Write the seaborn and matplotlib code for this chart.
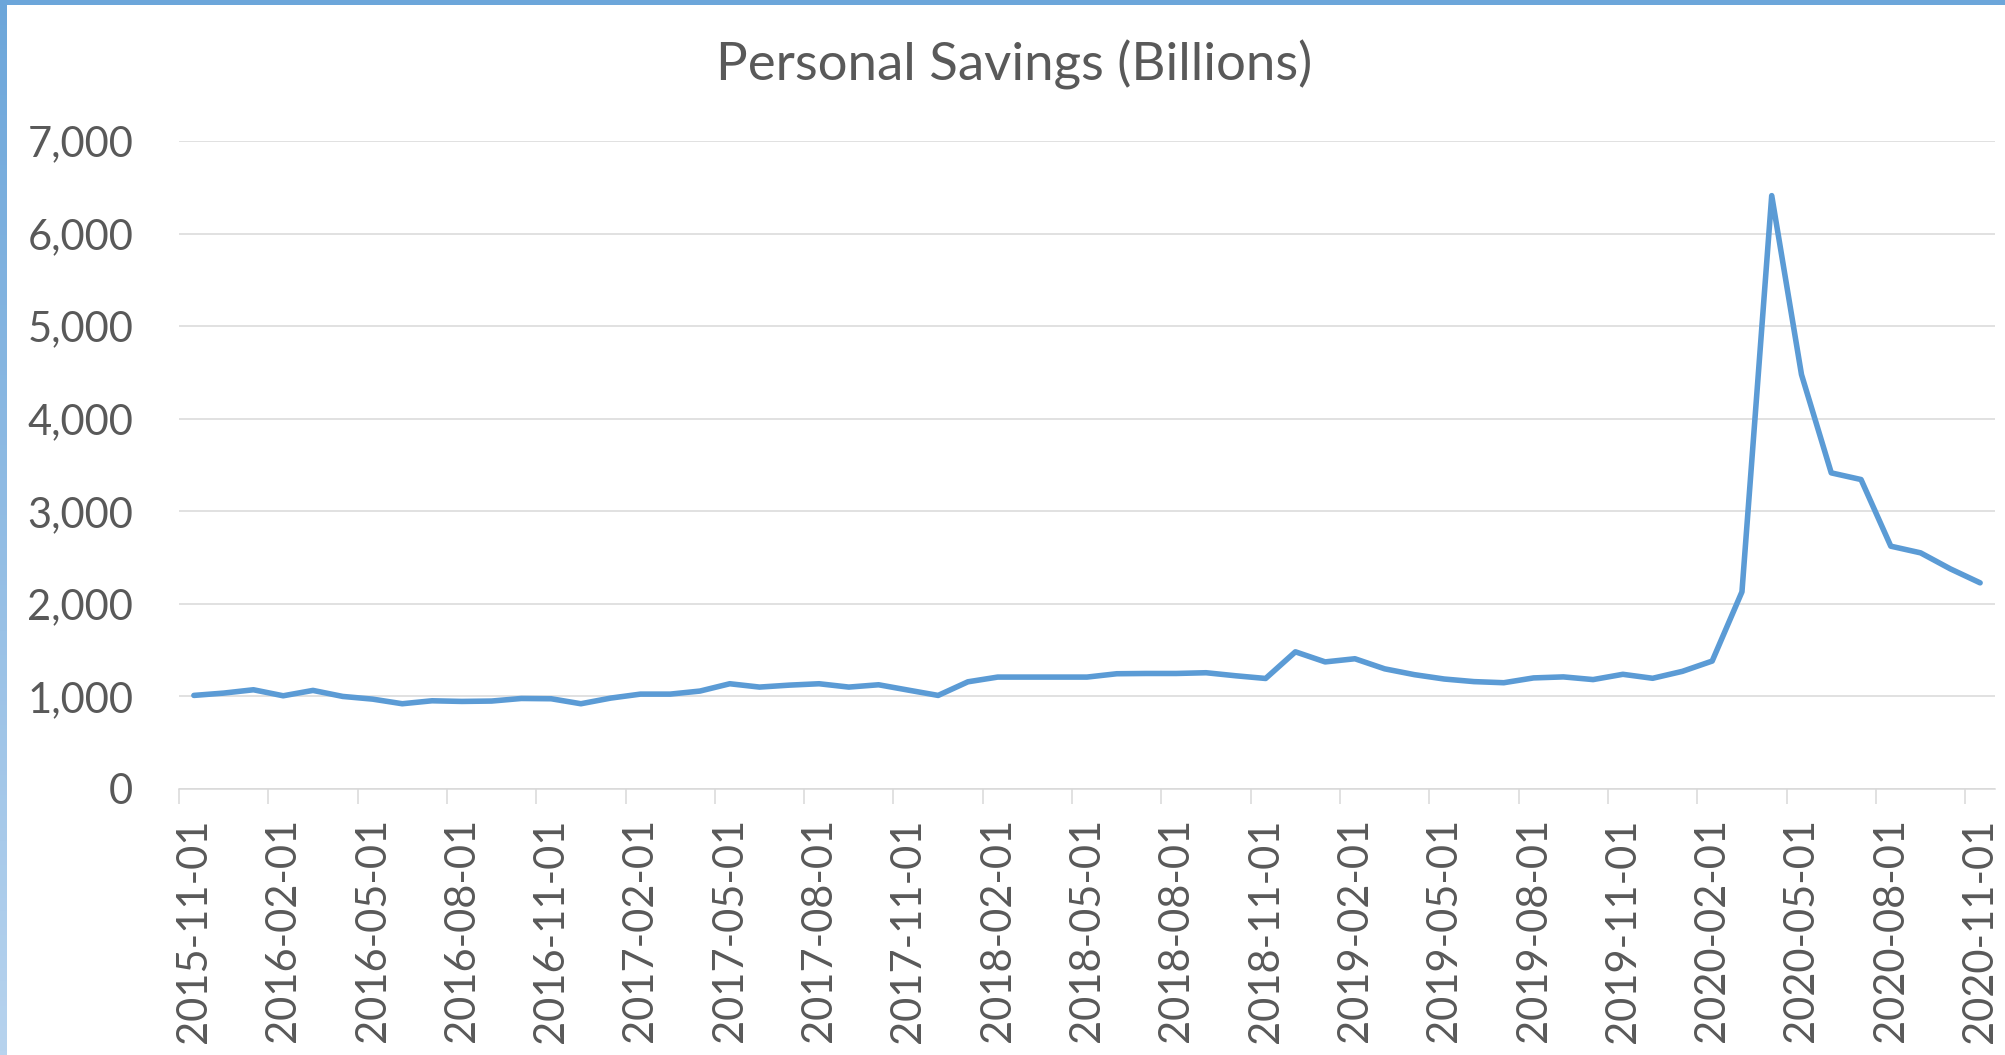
import numpy as np
import pandas as pd
import matplotlib
matplotlib.use("Agg")
import matplotlib.pyplot as plt
import seaborn as sns
from matplotlib.patches import Rectangle
from matplotlib.colors import LinearSegmentedColormap

# ---- data ----
dates = pd.date_range("2015-11-01", periods=61, freq="MS").strftime("%Y-%m-%d").tolist()
savings = [1011, 1036, 1072, 1007, 1065, 1000, 971, 921, 953, 946,
           950, 978, 975, 921, 982, 1025, 1025, 1058, 1137, 1101,
           1122, 1137, 1101, 1126, 1068, 1011, 1158, 1209, 1209, 1209,
           1209, 1245, 1248, 1248, 1256, 1223, 1194, 1482, 1373, 1407,
           1298, 1235, 1188, 1160, 1148, 1200, 1211, 1182, 1239, 1196,
           1271, 1382, 2130, 6410, 4477, 3415, 3343, 2623, 2551, 2378,
           2227]
y_ticks = [0, 1000, 2000, 3000, 4000, 5000, 6000, 7000]
title = "Personal Savings (Billions)"

df = pd.DataFrame({"pos": np.arange(len(dates)), "date": dates, "value": savings})

sns.set_theme(style="white")
plt.rcParams["font.family"] = ["Lato", "DejaVu Sans"]

W, H = 2005, 1055
fig = plt.figure(figsize=(W / 100, H / 100), dpi=100)
fig.patch.set_facecolor("white")

ax = fig.add_axes([179 / W, 1 - 789 / H, (1995 - 179) / W, (789 - 141) / H])
sns.lineplot(data=df, x="pos", y="value", ax=ax, color="#5B9BD5", linewidth=4.0,
             solid_joinstyle="round", solid_capstyle="round")

ax.set_xlim(-0.5, len(dates) - 0.5)
ax.set_ylim(0, 7000)
ax.set_xlabel("")
ax.set_ylabel("")

grey = "#595959"
gridc = "#D9D9D9"

ax.set_yticks(y_ticks)
ax.set_yticklabels([f"{v:,}" for v in y_ticks], fontsize=30, color=grey)
ax.yaxis.grid(True, color=gridc, linewidth=1.1)
ax.tick_params(axis="y", length=0, pad=33)

# category boundaries as major ticks, labels at category centres (minor)
ax.set_xticks(np.arange(-0.5, len(dates) - 1, 3))
ax.set_xticklabels([])
ax.tick_params(axis="x", which="major", bottom=True, length=11, width=1.1,
               color=gridc, direction="out")
label_pos = np.arange(0, len(dates), 3)
ax.set_xticks(label_pos, minor=True)
ax.set_xticklabels([dates[i] for i in label_pos], minor=True, rotation=90,
                   fontsize=30, color=grey)
ax.tick_params(axis="x", which="minor", bottom=True, length=0, pad=21)
ax.xaxis.grid(False)

for s in ["top", "right", "left"]:
    ax.spines[s].set_visible(False)
ax.spines["bottom"].set_color(gridc)
ax.spines["bottom"].set_linewidth(1.1)

fig.text(1014 / W, 1 - 81 / H, title, ha="center", va="baseline", fontsize=38, color=grey)

# frame decorations: top bar and left gradient bar
fig.patches.append(Rectangle((0, 1 - 5 / H), 1, 5 / H, transform=fig.transFigure,
                             facecolor="#6CA6DA", edgecolor="none", zorder=10))
grad_ax = fig.add_axes([0, 0, 7 / W, 1])
grad = np.linspace(0, 1, 256).reshape(-1, 1)
cmap = LinearSegmentedColormap.from_list("g", ["#6CA6DA", "#B7D3EE"])
grad_ax.imshow(grad, aspect="auto", cmap=cmap, extent=[0, 1, 0, 1], origin="upper")
grad_ax.set_axis_off()

fig.savefig("out.png", dpi=100, facecolor="white")
